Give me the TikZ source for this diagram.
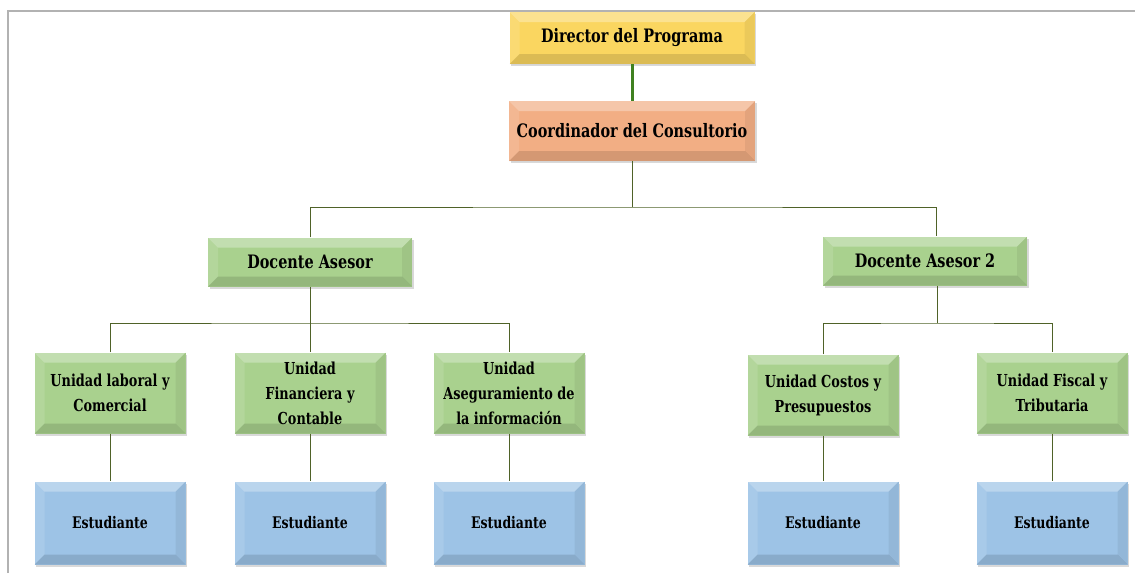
\documentclass[tikz,border=0pt]{standalone}
\usepackage{fontspec}
\setmainfont{DejaVu Serif}[FakeStretch=0.78]
\usepackage{tikz}
\usetikzlibrary{shadows}

\definecolor{dirYellow}{HTML}{FAD660}
\definecolor{coordOrange}{HTML}{F2AE84}
\definecolor{unitGreen}{HTML}{A9D18E}
\definecolor{studBlue}{HTML}{9DC3E6}
\definecolor{linkGreen}{HTML}{4F6228}

\tikzset{
  bevel/.style={path picture={
      \coordinate (bnw) at (path picture bounding box.north west);
      \coordinate (bne) at (path picture bounding box.north east);
      \coordinate (bsw) at (path picture bounding box.south west);
      \coordinate (bse) at (path picture bounding box.south east);
      \fill[white,opacity=0.3] (bnw) -- (bne) -- ([shift={(-10pt,-10pt)}]bne) -- ([shift={(10pt,-10pt)}]bnw) -- cycle;
      \fill[white,opacity=0.12] (bnw) -- (bsw) -- ([shift={(10pt,10pt)}]bsw) -- ([shift={(10pt,-10pt)}]bnw) -- cycle;
      \fill[black,opacity=0.06] (bne) -- (bse) -- ([shift={(-10pt,10pt)}]bse) -- ([shift={(-10pt,-10pt)}]bne) -- cycle;
      \fill[black,opacity=0.12] (bsw) -- (bse) -- ([shift={(-10pt,10pt)}]bse) -- ([shift={(10pt,10pt)}]bsw) -- cycle;
    }},
  box/.style={rectangle, bevel, align=center, font=\bfseries,
    drop shadow={shadow xshift=1.5pt, shadow yshift=-2pt, opacity=0.3}},
  topbox/.style={box, fill=dirYellow, minimum width=245pt, minimum height=52pt, font=\bfseries\fontsize{18.5}{21}\selectfont},
  coordbox/.style={box, fill=coordOrange, minimum width=246pt, minimum height=60pt, font=\bfseries\fontsize{18.5}{21}\selectfont},
  docbox/.style={box, fill=unitGreen, minimum width=204pt, minimum height=49pt, font=\bfseries\fontsize{18.5}{21}\selectfont},
  unitbox/.style={box, fill=unitGreen, minimum width=151pt, minimum height=81pt, font=\bfseries\fontsize{16.5}{25}\selectfont},
  studbox/.style={box, fill=studBlue, minimum width=151pt, minimum height=83pt, font=\bfseries\fontsize{16}{19}\selectfont},
  link/.style={draw=linkGreen, line width=0.9pt},
}

\begin{document}
\begin{tikzpicture}[x=1pt, y=-1pt]
  \useasboundingbox (0,0) rectangle (1135,573);
  % frame
  \draw[black!30, line width=2pt] (8,573) -- (8,11) -- (1135,11);

  % head
  \node[topbox] (dir) at (632,38) {Director del Programa};
  \node[coordbox] (coord) at (632,131) {Coordinador del Consultorio};
  \draw[draw=linkGreen!80!green, line width=3pt] (dir) -- (coord);

  % docentes
  \node[docbox] (doc1) at (310,262) {Docente Asesor};
  \node[docbox] (doc2) at (925,261) {Docente Asesor 2};
  \coordinate (bus1) at (632,207);
  \draw[link] (coord) -- (bus1);
  \draw[link] (doc1.north) |- (bus1) -| ([xshift=11pt]doc2.north);

  % unidades
  \node[unitbox] (u1) at (110,393) {Unidad laboral y\\Comercial};
  \node[unitbox] (u2) at (310,393) {Unidad\\Financiera y\\Contable};
  \node[unitbox] (u3) at (509,393) {Unidad\\Aseguramiento de\\la informaci\'on};
  \node[unitbox] (u4) at (823,395) {Unidad Costos y\\Presupuestos};
  \node[unitbox] (u5) at (1052,393) {Unidad Fiscal y\\Tributaria};

  \coordinate (bus2) at (310,323);
  \coordinate (bus3) at (937,323);
  \draw[link] (doc1) -- (u2);
  \draw[link] (u1.north) |- (bus2) -| (u3.north);
  \draw[link] ([xshift=12pt]doc2.south) -- (bus3);
  \draw[link] (u4.north) |- (bus3) -| (u5.north);

  % estudiantes
  \foreach \i/\xpos in {1/110, 2/310, 3/509, 4/823, 5/1052}{
    \node[studbox] (e\i) at (\xpos,523) {Estudiante};
    \draw[link] (u\i) -- (e\i);
  }
\end{tikzpicture}
\end{document}
